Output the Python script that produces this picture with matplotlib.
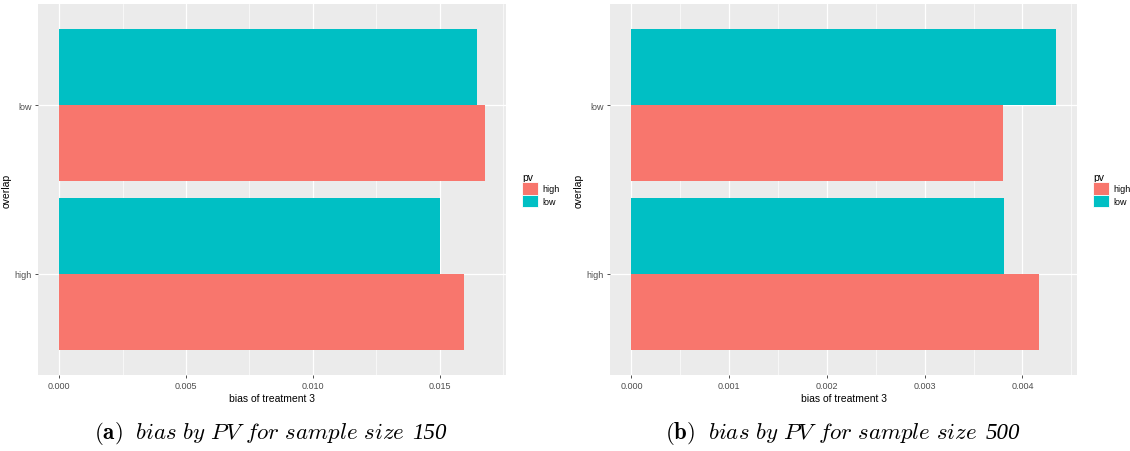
import numpy as np
import matplotlib.pyplot as plt

# data
overlap = ["high", "low"]
pv_levels = ["high", "low"]
bias_150 = {"high": [0.01598, 0.01677], "low": [0.01500, 0.01646]}
bias_500 = {"high": [0.00417, 0.00380], "low": [0.00381, 0.00434]}
ticks_150 = [0.000, 0.005, 0.010, 0.015]
ticks_500 = [0.000, 0.001, 0.002, 0.003, 0.004]
captions = [("(a)", "bias by PV for sample size", "150"),
            ("(b)", "bias by PV for sample size", "500")]

colors = {"high": "#F8766D", "low": "#00BFC4"}
plt.rcParams['mathtext.fontset'] = 'cm'
plt.rcParams['font.family'] = ['Liberation Sans', 'DejaVu Sans']


def panel(ax, data, ticks, fmt):
    ax.set_facecolor("#EBEBEB")
    y = np.arange(len(overlap))
    w = 0.45
    for i, lev in enumerate(pv_levels):
        off = -w / 2 if i == 0 else w / 2
        ax.barh(y + off, data[lev], height=w, color=colors[lev], zorder=3)
    xmax = max(max(v) for v in data.values())
    pad = 0.05 * xmax
    ax.set_xlim(-pad, xmax + pad)
    ax.set_ylim(-0.6, len(overlap) - 0.4)
    ax.set_xticks(ticks)
    ax.set_xticklabels([fmt.format(t) for t in ticks])
    minor = [(a + b) / 2 for a, b in zip(ticks[:-1], ticks[1:])]
    minor.append(ticks[-1] + (ticks[1] - ticks[0]) / 2)
    ax.set_xticks(minor, minor=True)
    ax.set_yticks(y)
    ax.set_yticklabels(overlap)
    ax.grid(which="major", color="white", linewidth=0.9, zorder=0)
    ax.grid(which="minor", axis="x", color="white", linewidth=0.45, zorder=0)
    ax.set_axisbelow(True)
    for s in ax.spines.values():
        s.set_visible(False)
    ax.tick_params(which="major", length=2.5, width=0.6, color="#333333",
                   labelsize=6.5, labelcolor="#4D4D4D", pad=2)
    ax.tick_params(which="minor", length=0)
    ax.set_xlabel("bias of treatment 3", fontsize=7.5, labelpad=2)
    ax.set_ylabel("overlap", fontsize=7.5, labelpad=2)
    handles = [plt.Rectangle((0, 0), 1, 1, facecolor=colors[l],
                             edgecolor="white", linewidth=0.6) for l in pv_levels]
    leg = ax.legend(handles, pv_levels, title="pv", loc="center left",
                    bbox_to_anchor=(1.035, 0.5), frameon=False, fontsize=6.5,
                    title_fontsize=7.5, handlelength=1.75, handleheight=1.75,
                    handletextpad=0.45, labelspacing=0.05, borderaxespad=0,
                    borderpad=0)
    leg._legend_box.align = "left"


fig = plt.figure(figsize=(11.3, 4.52), dpi=100)
ax1 = fig.add_axes([0.0336, 0.168, 0.414, 0.821])
ax2 = fig.add_axes([0.540, 0.168, 0.413, 0.821])
panel(ax1, bias_150, ticks_150, "{:.3f}")
panel(ax2, bias_500, ticks_500, "{:.3f}")

# captions: bold tag + italic text, digits in an italic serif face
fig.canvas.draw()
renderer = fig.canvas.get_renderer()
gap = 0.007
for (tag, txt, num), xc in zip(captions, [0.239, 0.7455]):
    label = r"$\mathbf{" + tag + r"}$  $\mathit{" + txt.replace(" ", r"\ ") + r"}$"
    t1 = fig.text(0, 0.042, label, ha="left", va="center", fontsize=16.5)
    t2 = fig.text(0, 0.042, num, ha="left", va="center", fontsize=16.5,
                  family="Liberation Serif", style="italic")
    w1 = t1.get_window_extent(renderer).width / fig.bbox.width
    w2 = t2.get_window_extent(renderer).width / fig.bbox.width
    x0 = xc - (w1 + gap + w2) / 2
    t1.set_x(x0)
    t2.set_x(x0 + w1 + gap)

fig.savefig("out.png", dpi=100)
